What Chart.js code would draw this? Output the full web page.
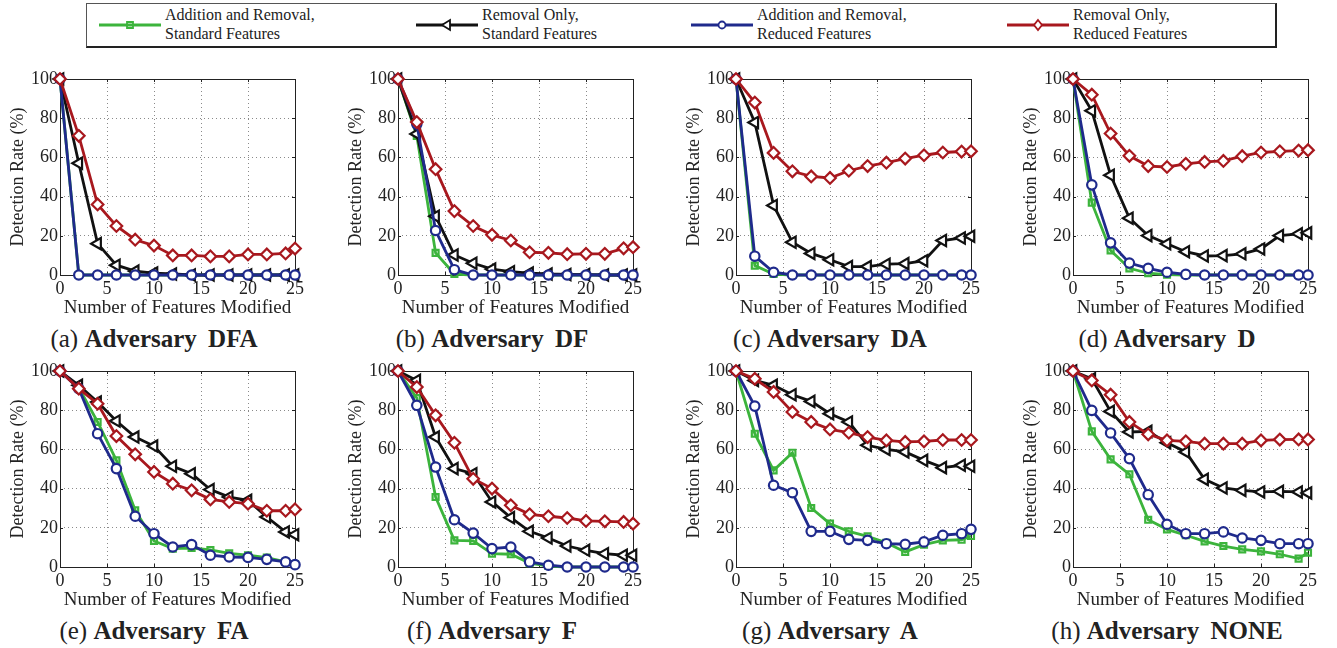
<!DOCTYPE html>
<html lang='en'>
<head>
  <meta charset='UTF-8'>
  <title>Detection Rate vs Number of Features Modified</title>
  <style>
    * { box-sizing: border-box; }
    body { margin: 0; width: 1337px; height: 648px; position: relative; overflow: hidden; background: #fff; font-family: 'Liberation Serif', 'Times New Roman', serif; color: #222; }
    .panel { position: absolute; }
    .caption { position: absolute; font-size: 25px; white-space: nowrap; transform: translate(-50%, -50%); }
    .caption b { word-spacing: 5px; }
    #legend { position: absolute; left: 86px; top: 3px; width: 1191px; height: 45px; border: 1px solid #555; border-bottom: 2px solid #222; border-right: 2px solid #222; }
    .swatch { position: absolute; top: 14px; }
    .ltext { position: absolute; top: 1px; font-size: 16px; line-height: 19px; white-space: nowrap; }
  </style>
  <script src="https://cdn.jsdelivr.net/npm/chart.js"></script>
</head>
<body>
  <div id='legend'></div>

  <script>
    // x positions (number of features modified)
    const features = [0, 2, 4, 6, 8, 10, 12, 14, 16, 18, 20, 22, 24, 25];

    // (a) Adversary DFA
    const dfaAddStd = [100, 0, 0, 0, 0, 0, 0, 0, 0, 0, 0, 0, 0, 0];
    const dfaRemStd = [100, 57, 16, 5, 2, 1, 0.5, 0, 0, 0, 0, 0, 0, 0];
    const dfaAddRed = [100, 0, 0, 0, 0, 0, 0, 0, 0, 0, 0, 0, 0, 0];
    const dfaRemRed = [100, 71, 36, 25, 18, 15, 10, 10, 9.5, 9.5, 10.5, 10.5, 11, 13.5];
    // (b) Adversary DF
    const dfAddStd = [100, 71, 11.3, 0.5, 0, 0, 0, 0, 0, 0, 0, 0, 0, 0];
    const dfRemStd = [100, 72, 30, 10.2, 6, 3, 1.7, 1, 0.5, 0.3, 0.2, 0, 0, 0];
    const dfAddRed = [100, 77, 22.7, 2.7, 0, 0, 0, 0, 0, 0, 0, 0, 0, 0];
    const dfRemRed = [100, 78, 54, 32.6, 25, 20.5, 17.6, 11.6, 11.3, 10.6, 10.8, 10.8, 13.6, 14.2];
    // (c) Adversary DA
    const daAddStd = [100, 4.8, 0.5, 0, 0, 0, 0, 0, 0, 0, 0, 0, 0, 0];
    const daRemStd = [100, 77.8, 35.5, 16.7, 11, 7.8, 4.3, 4.3, 5.5, 5.8, 7.3, 17.6, 18.9, 19.8];
    const daAddRed = [100, 9.6, 1.4, 0, 0, 0, 0, 0, 0, 0, 0, 0, 0, 0];
    const daRemRed = [100, 88, 62.3, 52.9, 50.3, 49.5, 53.2, 55.6, 57.3, 59.4, 61.1, 62.5, 63, 63.1];
    // (d) Adversary D
    const dAddStd = [100, 36.9, 12.5, 3.4, 0.9, 0.2, 0, 0, 0, 0, 0, 0, 0, 0];
    const dRemStd = [100, 83.8, 50.9, 29, 20.1, 15.9, 11.9, 9.7, 9.9, 10.8, 13.3, 20.1, 21, 21.5];
    const dAddRed = [100, 46, 16.4, 6.1, 3.4, 1.4, 0.3, 0, 0, 0, 0, 0, 0, 0];
    const dRemRed = [100, 92, 72.2, 60.8, 55.6, 55.1, 56.7, 57.7, 58.2, 60.6, 62.5, 63.1, 63.5, 63.7];
    // (e) Adversary FA
    const faAddStd = [100, 91.5, 74, 54.4, 28.9, 13.3, 9.4, 9.7, 8.7, 7, 6, 4.8, 2.6, 1.4];
    const faRemStd = [100, 92.7, 84.2, 74.5, 66.3, 61.7, 51.4, 47.6, 39.5, 35.7, 34, 25.5, 17.9, 16.5];
    const faAddRed = [100, 91, 68, 50.2, 25.9, 17, 10.2, 11.4, 6, 5.1, 4.9, 3.9, 2.6, 1.2];
    const faRemRed = [100, 91, 83.3, 66.8, 57.5, 48.5, 42.5, 39.1, 34.5, 33.2, 32.3, 28.7, 28.7, 29.4];
    // (f) Adversary F
    const fAddStd = [100, 86.2, 35.7, 13.6, 13.3, 6.8, 6.5, 2, 0.5, 0, 0, 0, 0, 0];
    const fRemStd = [100, 95.2, 66.3, 50.2, 47.6, 33.2, 25.2, 18.2, 14.8, 10.7, 8.5, 6.8, 6, 6];
    const fAddRed = [100, 82.5, 51, 24.1, 17.3, 9.4, 10.2, 2.6, 0.9, 0, 0, 0, 0, 0];
    const fRemRed = [100, 91.8, 77.4, 63.4, 45, 40, 31.5, 26.9, 25.9, 25, 23.5, 23.3, 23, 22.1];
    // (g) Adversary A
    const aAddStd = [100, 68, 49.3, 58.3, 30.1, 22.1, 18.2, 15.6, 12.4, 7.7, 11.4, 13.6, 13.9, 15.8];
    const aRemStd = [100, 95.2, 92.7, 87.9, 84.5, 78.2, 74, 62.1, 60, 58.7, 54.4, 50.7, 51.9, 51.4];
    const aAddRed = [100, 82.1, 41.7, 37.9, 18.2, 18.2, 14.1, 13.6, 11.9, 11.6, 12.8, 16.2, 17, 19.2];
    const aRemRed = [100, 96, 89.3, 79.1, 74, 70.2, 68.5, 66.3, 64.6, 63.8, 64.1, 64.8, 64.8, 64.8];
    // (h) Adversary NONE
    const noneAddStd = [100, 69.2, 54.9, 47.3, 24.1, 19.2, 16.2, 13.1, 10.7, 9, 8, 6.5, 4.3, 7.3];
    const noneRemStd = [100, 96, 79.4, 68.9, 69.2, 63.4, 58.7, 44.7, 40.3, 39.1, 38.3, 38.6, 38.3, 37.8];
    const noneAddRed = [100, 79.9, 68.4, 55.3, 36.9, 21.8, 17, 17, 17.9, 14.8, 13.6, 11.9, 11.9, 11.9];
    const noneRemRed = [100, 95.2, 87.9, 74, 67.7, 64.6, 64.1, 62.9, 62.9, 62.9, 64.6, 65, 65.1, 65.1];

    const seriesLabels = [
      ['Addition and Removal,', 'Standard Features'],
      ['Removal Only,', 'Standard Features'],
      ['Addition and Removal,', 'Reduced Features'],
      ['Removal Only,', 'Reduced Features']
    ];
    const panelLetters = ['a', 'b', 'c', 'd', 'e', 'f', 'g', 'h'];
    const panelNames = ['DFA', 'DF', 'DA', 'D', 'FA', 'F', 'A', 'NONE'];
    const panelData = [
      [dfaAddStd, dfaRemStd, dfaAddRed, dfaRemRed],
      [dfAddStd, dfRemStd, dfAddRed, dfRemRed],
      [daAddStd, daRemStd, daAddRed, daRemRed],
      [dAddStd, dRemStd, dAddRed, dRemRed],
      [faAddStd, faRemStd, faAddRed, faRemRed],
      [fAddStd, fRemStd, fAddRed, fRemRed],
      [aAddStd, aRemStd, aAddRed, aRemRed],
      [noneAddStd, noneRemStd, noneAddRed, noneRemRed]
    ];

    // styles per series: colour, marker, size, rotation, fill, draw order
    const styles = [
      { color: '#3cb43c', point: 'rect', radius: 4.2, rot: 0, fill: 'rgba(255,255,255,0)', order: 4 },
      { color: '#111111', point: 'triangle', radius: 6.5, rot: -90, fill: '#ffffff', order: 3 },
      { color: '#1f2a8c', point: 'circle', radius: 4.7, rot: 0, fill: '#ffffff', order: 2 },
      { color: '#a8181e', point: 'rectRot', radius: 5.8, rot: 0, fill: '#ffffff', order: 1 }
    ];

    const plotLefts = [60, 398, 736, 1073];
    const plotTops = [79, 371];
    const plotW = 235, plotH = 196;
    const padL = 60, padT = 14, padR = 16, axisH = 45;
    const fontFamily = 'Liberation Serif';

    Chart.defaults.font.family = fontFamily;
    Chart.defaults.color = '#222';

    // box frame + inward tick marks, MATLAB style
    const framePlugin = {
      id: 'frame',
      beforeDatasetsDraw(chart) {
        const { ctx, chartArea: a, scales: { x, y } } = chart;
        ctx.save();
        ctx.strokeStyle = '#222';
        ctx.lineWidth = 1;
        ctx.beginPath();
        x.ticks.forEach(t => {
          const px = Math.round(x.getPixelForValue(t.value)) + 0.5;
          ctx.moveTo(px, a.bottom); ctx.lineTo(px, a.bottom - 3);
          ctx.moveTo(px, a.top); ctx.lineTo(px, a.top + 3);
        });
        y.ticks.forEach(t => {
          const py = Math.round(y.getPixelForValue(t.value)) + 0.5;
          ctx.moveTo(a.left, py); ctx.lineTo(a.left + 3, py);
          ctx.moveTo(a.right, py); ctx.lineTo(a.right - 3, py);
        });
        ctx.stroke();
        ctx.strokeRect(Math.round(a.left) + 0.5, Math.round(a.top) + 0.5, Math.round(a.right - a.left), Math.round(a.bottom - a.top));
        ctx.restore();
      }
    };

    function makePanel(i) {
      const col = i % 4, row = Math.floor(i / 4);
      const left = plotLefts[col], top = plotTops[row];
      const canvas = document.createElement('canvas');
      canvas.className = 'panel';
      canvas.width = padL + plotW + padR;
      canvas.height = padT + plotH + axisH;
      canvas.style.left = (left - padL) + 'px';
      canvas.style.top = (top - padT) + 'px';
      document.body.appendChild(canvas);

      const cap = document.createElement('div');
      cap.className = 'caption';
      cap.innerHTML = '(' + panelLetters[i] + ') <b>Adversary ' + panelNames[i] + '</b>';
      cap.style.left = (left + 94) + 'px';
      cap.style.top = (top + plotH + 64) + 'px';
      document.body.appendChild(cap);

      const datasets = panelData[i].map((vals, k) => ({
        label: seriesLabels[k].join(' '),
        data: vals.map((v, j) => ({ x: features[j], y: v })),
        borderColor: styles[k].color,
        backgroundColor: styles[k].fill,
        pointBackgroundColor: styles[k].fill,
        pointBorderColor: styles[k].color,
        borderWidth: 2.8,
        pointBorderWidth: 2.2,
        pointStyle: styles[k].point,
        pointRadius: styles[k].radius,
        pointRotation: styles[k].rot,
        tension: 0,
        clip: false,
        order: styles[k].order
      }));

      new Chart(canvas.getContext('2d'), {
        type: 'line',
        data: { datasets },
        options: {
          responsive: false,
          animation: false,
          devicePixelRatio: 1,
          layout: { padding: { left: 0, right: padR, top: padT, bottom: 0 } },
          plugins: { legend: { display: false }, tooltip: { enabled: false } },
          scales: {
            x: {
              type: 'linear', min: 0, max: 25,
              ticks: { stepSize: 5, font: { family: fontFamily, size: 18 }, color: '#222', padding: 3, maxRotation: 0 },
              grid: { color: '#8a8a8a', drawTicks: false, lineWidth: 1 },
              border: { display: false, dash: [1, 3] },
              title: { display: true, text: 'Number of Features Modified', color: '#222', font: { family: fontFamily, size: 19 }, padding: { top: 0, bottom: 1 } },
              afterFit: s => { s.height = axisH; }
            },
            y: {
              type: 'linear', min: 0, max: 100,
              ticks: { stepSize: 20, font: { family: fontFamily, size: 18 }, color: '#222', padding: 2 },
              grid: { color: '#8a8a8a', drawTicks: false, lineWidth: 1 },
              border: { display: false, dash: [1, 3] },
              title: { display: true, text: 'Detection Rate (%)', color: '#222', font: { family: fontFamily, size: 18 }, padding: { top: 7, bottom: 0 } },
              afterFit: s => { s.width = padL; }
            }
          }
        },
        plugins: [framePlugin]
      });
    }

    // legend built from the same styles
    function makeLegend() {
      const box = document.getElementById('legend');
      const swatchLefts = [12, 329, 604, 920];
      swatchLefts.forEach((sx, k) => {
        const c = document.createElement('canvas');
        c.className = 'swatch';
        c.width = 62; c.height = 14;
        c.style.left = sx + 'px';
        box.appendChild(c);
        const ctx = c.getContext('2d');
        const st = styles[k];
        ctx.strokeStyle = st.color;
        ctx.lineWidth = 2.8;
        ctx.beginPath(); ctx.moveTo(0, 7); ctx.lineTo(62, 7); ctx.stroke();
        ctx.lineWidth = 1.8;
        ctx.fillStyle = st.fill;
        const cx = 31, cy = 7;
        ctx.beginPath();
        if (st.point === 'rect') {
          ctx.rect(cx - 3, cy - 3, 6, 6);
        } else if (st.point === 'triangle') {
          ctx.moveTo(cx - 5, cy); ctx.lineTo(cx + 3, cy - 5); ctx.lineTo(cx + 3, cy + 5); ctx.closePath();
        } else if (st.point === 'circle') {
          ctx.arc(cx, cy, 3.5, 0, Math.PI * 2);
        } else {
          ctx.moveTo(cx, cy - 5); ctx.lineTo(cx + 4, cy); ctx.lineTo(cx, cy + 5); ctx.lineTo(cx - 4, cy); ctx.closePath();
        }
        ctx.fill(); ctx.stroke();

        const t = document.createElement('div');
        t.className = 'ltext';
        t.style.left = (sx + 66) + 'px';
        t.innerHTML = seriesLabels[k][0] + '<br>' + seriesLabels[k][1];
        box.appendChild(t);
      });
    }

    makeLegend();
    for (let i = 0; i < 8; i++) makePanel(i);
  </script>
</body>
</html>
